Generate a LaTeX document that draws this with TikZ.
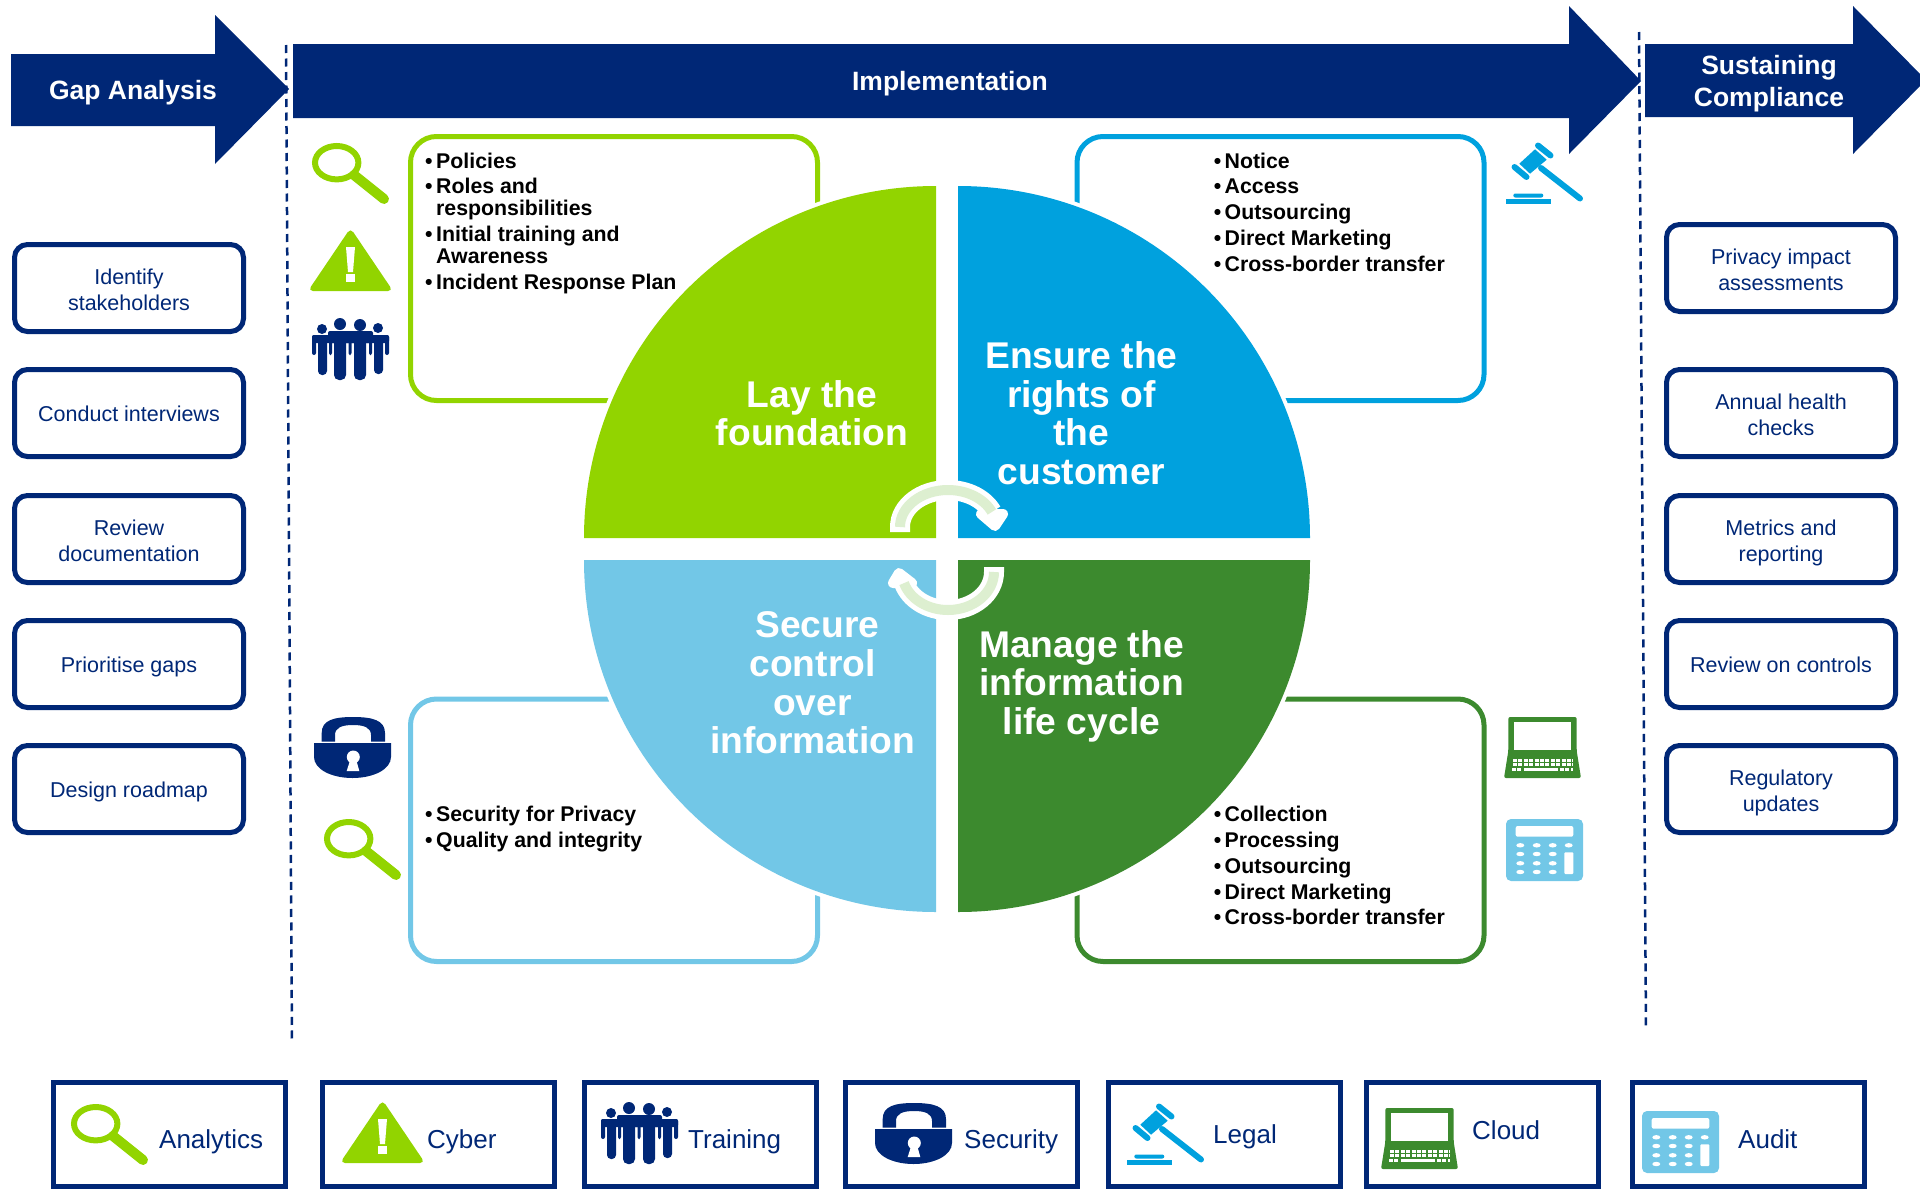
\documentclass[tikz,border=0pt]{standalone}
\usepackage{fontspec}
\setmainfont{Liberation Sans}
\usepackage{xcolor}
\usetikzlibrary{calc,positioning}
\definecolor{navy}{HTML}{002776}
\definecolor{limegreen}{HTML}{92D400}
\definecolor{skyblue}{HTML}{00A1DE}
\definecolor{paleblue}{HTML}{72C7E7}
\definecolor{leafgreen}{HTML}{3C8A2E}
\definecolor{palegreen}{HTML}{DDEFD0}
\newcommand{\itm}{\llap{\textbullet\hspace{3.5pt}}}
\tikzset{
  pics/lens/.style={code={
    \draw[limegreen,line width=6] (24.7,19.7) ellipse [x radius=21.7,y radius=16.7];
    \draw[limegreen,line width=10,line cap=round] (42,32) -- (72,56);
  }},
  pics/warn/.style={code={
    \fill[limegreen,rounded corners=5] (38.5,-2) -- (-4,61) -- (81,61) -- cycle;
    \fill[white] (34,17) -- (43,17) -- (41,42) -- (36,42) -- cycle;
    \fill[white] (34,44) rectangle (43,52);
  }},
  pics/crew/.style={code={
    \fill[navy] (10,10) circle [radius=5] (28,5) circle [radius=6] (48,6) circle [radius=6] (66,9) circle [radius=5];
    \fill[navy,rounded corners=2] (0,16) rectangle (77,24);
    \fill[navy,rounded corners=2] (16,12) rectangle (61,24);
    \fill[navy,rounded corners=2] (0,16) rectangle (4,36);
    \fill[navy,rounded corners=2] (73,16) rectangle (77,36);
    \fill[navy,rounded corners=2] (17,20) rectangle (20,36);
    \fill[navy,rounded corners=2] (36.5,20) rectangle (39.5,36);
    \fill[navy,rounded corners=2] (57,20) rectangle (60,36);
    \fill[navy,rounded corners=4] (6,18) rectangle (15,56);
    \fill[navy,rounded corners=5] (22,12) rectangle (34,61);
    \fill[navy,rounded corners=5] (42,12) rectangle (54,61);
    \fill[navy,rounded corners=4] (62,18) rectangle (71,55);
  }},
  pics/gavel/.style={code={
    \begin{scope}[skyblue,line cap=round]
    \draw[line width=6] (32,2.5) -- (44.5,12.5);
    \draw[line width=6] (8.5,24) -- (20.5,34);
    \fill (13.3,20.7) -- (29,6.3) -- (40.7,16.7) -- (24,30.7) -- cycle;
    \draw[line width=6] (35,25) -- (74,55.5);
    \fill[rounded corners=2] (7.3,50.5) rectangle (37.3,54.5);
    \fill (0,56.3) rectangle (45,61.3);
    \end{scope}
  }},
  pics/laptop/.style={code={
    \fill[leafgreen,rounded corners=2] (4.3,0) -- (72.7,0) -- (72.7,34) -- (77,61) -- (0,61) -- (4.3,34) -- cycle;
    \fill[white] (10.3,5) rectangle (66.7,33.3);
    \foreach \y in {43.5,47.5} \draw[white,line width=3,dash pattern=on 4 off 1.4] (9,\y) -- (69,\y);
    \draw[white,line width=3,dash pattern=on 4 off 1.4] (8,52) -- (18,52);
    \draw[white,line width=3] (20,52) -- (54,52);
    \draw[white,line width=3,dash pattern=on 4 off 1.4] (56,52) -- (69,52);
  }},
  pics/calc/.style={code={
    \fill[paleblue,rounded corners=5] (0,0) rectangle (77,62);
    \fill[white,rounded corners=2] (9.7,7) rectangle (67.3,17.7);
    \foreach \x in {14.3,30.7,46.7} \foreach \y in {26.3,35,44.3,53} \fill[white] (\x,\y) ellipse [x radius=4,y radius=2.2];
    \fill[white] (62.7,26.3) ellipse [x radius=4,y radius=2.2];
    \fill[white,rounded corners=1] (58.3,33.3) rectangle (67.3,55);
  }},
  pics/padlock/.style={code={
    \fill[navy] (7.7,24.5) -- (7.7,16) .. controls (7.7,3) and (20,0) .. (39,0) .. controls (58,0) and (71,3) .. (71,16) -- (71,24.5) -- (57,24.5) -- (57,18) .. controls (57,11) and (51,8) .. (39,8) .. controls (27,8) and (21,11) .. (21,18) -- (21,24.5) -- cycle;
    \fill[navy] (0,26) -- (77,26) -- (77,40) .. controls (77,52) and (60,61) .. (38.5,61) .. controls (17,61) and (0,52) .. (0,40) -- cycle;
    \fill[white] (39.3,40) circle [radius=6.5];
    \fill[white] (36.5,42) -- (42,42) -- (45.3,54) -- (32.7,54) -- cycle;
  }}
}
\begin{document}
\begin{tikzpicture}[x=1pt,y=-1pt,
    bar/.style={fill=navy},
    bartext/.style={text=white,align=center,font=\fontsize{26.5}{32}\selectfont\bfseries},
    stepbox/.style={draw=navy,line width=5,rounded corners=13,minimum width=229,minimum height=87,inner sep=0},
    steptext/.style={inner sep=0,align=center,text=navy,font=\fontsize{21.5}{25.7}\selectfont,execute at begin node=\rule{0pt}{24pt},execute at end node=\rule[-8pt]{0pt}{8pt}},
    tagbox/.style={draw=navy,line width=5,minimum width=232,minimum height=104,inner sep=0},
    tagtext/.style={anchor=base west,inner sep=0,text=navy,font=\fontsize{26}{30}\selectfont},
    panel/.style={line width=5,rounded corners=26},
    listline/.style={anchor=base west,inner sep=0,text=black,font=\fontsize{21.3}{25}\selectfont\bfseries},
    quadtext/.style={text=white,align=center,inner sep=0,font=\fontsize{37.2}{38.6}\selectfont\bfseries},
    borderline/.style={navy,line width=2.5,dash pattern=on 8 off 5.5}]
    \useasboundingbox (0,0) rectangle (1920,1189);

    \fill[bar] (11,54) -- (215,54) -- (215,15) -- (289,89) -- (215,164) -- (215,126) -- (11,126) -- cycle;
    \fill[bar] (293,44) -- (1569,44) -- (1569,6) -- (1641,81) -- (1569,154) -- (1569,118) -- (293,118) -- cycle;
    \fill[bar] (1645,44) -- (1853,44) -- (1853,6) -- (1926,80) -- (1853,154) -- (1853,117) -- (1645,117) -- cycle;
    \node[bartext] (gap) at (133,93) {Gap Analysis};
    \node[bartext] (impl) at (950,84) {Implementation};
    \node[bartext] (sustain) at (1769,84) {Sustaining\\Compliance};

    \coordinate (gaptop) at (286,45);
    \coordinate (gapend) at (292,1043);
    \coordinate (sustop) at (1639,32);
    \coordinate (susend) at (1646,1030);
    \draw[borderline] (gaptop) -- (gapend);
    \draw[borderline] (sustop) -- (susend);

    \foreach \y/\s/\t [count=\i] in {288/-5.5/Identify\\stakeholders,413/0/Conduct interviews,539/-5.5/Review\\documentation,664/0/Prioritise gaps,789/0/Design roadmap}{
      \node[stepbox] (gap\i) at (129,\y) {};
      \node[steptext] (gaptext\i) at ([yshift=\s]gap\i) {\t};
    }
    \foreach \y/\s/\t [count=\i] in {268/-5.5/Privacy impact\\assessments,413/-5.5/Annual health\\checks,539/-5.5/Metrics and\\reporting,664/0/Review on controls,789/-5.5/Regulatory\\updates}{
      \node[stepbox] (keep\i) at (1781,\y) {};
      \node[steptext] (keeptext\i) at ([yshift=\s]keep\i) {\t};
    }

    \draw[panel,limegreen] (410.5,136.5) rectangle (817.5,400.5);
    \draw[panel,skyblue] (1077,136.5) rectangle (1484,400.5);
    \draw[panel,paleblue] (410.5,699) rectangle (817.5,961.5);
    \draw[panel,leafgreen] (1077,699) rectangle (1484,961.5);

    \foreach \y/\t in {168/\itm Policies,193/\itm Roles and,215/responsibilities,241/\itm Initial training and,263/Awareness,289/\itm Incident Response Plan}
      \node[listline] at (436,\y) {\t};
    \foreach \y/\t in {168/\itm Notice,193/\itm Access,219/\itm Outsourcing,245/\itm Direct Marketing,271/\itm Cross-border transfer}
      \node[listline] at (1224.5,\y) {\t};
    \foreach \y/\t in {821/\itm Security for Privacy,847/\itm Quality and integrity}
      \node[listline] at (436,\y) {\t};
    \foreach \y/\t in {821/\itm Collection,847/\itm Processing,873/\itm Outsourcing,899/\itm Direct Marketing,924/\itm Cross-border transfer}
      \node[listline] at (1224.5,\y) {\t};

    \foreach \cx/\cy/\a/\c in {936/538/180/limegreen,958/538/270/skyblue,958/560/0/leafgreen,936/560/90/paleblue}{
      \draw[white,line width=8] (\cx,\cy) ++(\a:352) arc [start angle=\a,delta angle=90,radius=352];
      \fill[\c] (\cx,\cy) -- ++(\a:352) arc [start angle=\a,delta angle=90,radius=352] -- cycle;
    }

    \node[quadtext] (lay) at (812,413) {Lay the\\foundation};
    \node[quadtext] (ensure) at (1081.5,413) {Ensure the\\rights of\\the\\customer};
    \node[quadtext] (secure) at (812.5,683) {\hspace*{10pt}Secure\\control\\over\\information};
    \node[quadtext] (manage) at (1081.5,686) {Manage the\\information\\life cycle};

    \draw[white,line width=20] (900,532) -- (900,527) arc [start angle=180,end angle=336,x radius=48,y radius=37];
    \draw[white,line width=10,line join=round,fill=palegreen] (981,514) -- (1003,514) -- (995,526) -- cycle;
    \draw[palegreen,line width=10] (900,527) arc [start angle=180,end angle=336,x radius=48,y radius=37];
    \draw[white,line width=20] (994,567) -- (994,572) arc [start angle=0,end angle=163,x radius=46,y radius=38];
    \draw[white,line width=10,line join=round,fill=palegreen] (899,573) -- (893,583) -- (912,583) -- cycle;
    \draw[palegreen,line width=10] (994,572) arc [start angle=0,end angle=163,x radius=46,y radius=38];

    \pic at (312,143) {lens};
    \pic at (312,230) {warn};
    \pic at (312,319) {crew};
    \pic at (1506,143) {gavel};
    \pic at (314,717) {padlock};
    \pic at (324,819) {lens};
    \pic at (1504,717) {laptop};
    \pic at (1506,819) {calc};

    \foreach \x [count=\i] in {169.5,438,700,961,1224,1482,1748}
      \node[tagbox] (tag\i) at (\x,1134.5) {};
    \node[tagtext] (analytics) at (159,1148) {Analytics};
    \node[tagtext] (cyber) at (427,1148) {Cyber};
    \node[tagtext] (training) at (688,1148) {Training};
    \node[tagtext] (security) at (964,1148) {Security};
    \node[tagtext] (legal) at (1213,1143) {Legal};
    \node[tagtext] (cloud) at (1472,1139) {Cloud};
    \node[tagtext] (audit) at (1738,1148) {Audit};
    \pic at (71,1104) {lens};
    \pic at (344,1102) {warn};
    \pic at (601,1103) {crew};
    \pic at (875,1103) {padlock};
    \pic at (1127,1104) {gavel};
    \pic at (1381,1108) {laptop};
    \pic at (1642,1111) {calc};
\end{tikzpicture}
\end{document}
